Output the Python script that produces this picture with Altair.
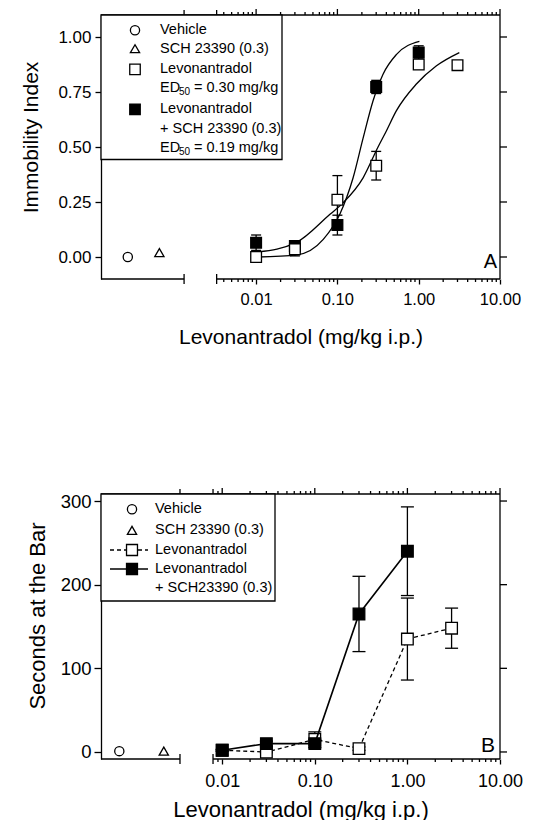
import altair as alt
import pandas as pd

FONT = "Liberation Sans"

# ---------------- Panel A : Immobility Index ----------------
dose_lev = [0.01, 0.03, 0.1, 0.3, 1.0, 3.0]
dose_combo = [0.01, 0.03, 0.1, 0.3, 1.0]
a_lev_mean = [0.00, 0.035, 0.26, 0.415, 0.875, 0.872]
a_lev_sem = [0.00, 0.03, 0.11, 0.065, 0.02, 0.02]
a_combo_mean = [0.065, 0.05, 0.145, 0.773, 0.93]
a_combo_sem = [0.035, 0.015, 0.045, 0.03, 0.03]
a_ctrl_mean = [0.00, 0.02]          # Vehicle, SCH 23390 (0.3)
a_fit_lev_x = [0.0105, 0.031, 0.081, 0.118, 0.207, 0.316, 0.40, 0.53, 0.93, 1.64, 3.16]
a_fit_lev_y = [0.023, 0.065, 0.194, 0.247, 0.36, 0.50, 0.573, 0.664, 0.785, 0.868, 0.929]
a_fit_combo_x = [0.0105, 0.032, 0.067, 0.107, 0.156, 0.207, 0.274, 0.363, 0.53, 1.02]
a_fit_combo_y = [0.0, 0.01, 0.08, 0.194, 0.36, 0.54, 0.709, 0.83, 0.92, 0.98]
a_yticks = [0.0, 0.25, 0.5, 0.75, 1.0]
a_legend = ["Vehicle", "SCH 23390 (0.3)", "Levonantradol", "= 0.30 mg/kg",
            "Levonantradol", "+ SCH 23390 (0.3)", "= 0.19 mg/kg"]

# ---------------- Panel B : Seconds at the Bar ----------------
b_lev_mean = [2, 0, 15, 4, 135, 148]
b_lev_sem = [1, 1, 9, 2, 49, 24]
b_combo_mean = [2, 10, 10, 165, 240]
b_combo_sem = [1, 3, 5, 45, 53]
b_ctrl_mean = [1, 1]
b_yticks = [0, 100, 200, 300]
b_legend = ["Vehicle", "SCH 23390 (0.3)", "Levonantradol", "Levonantradol", "+ SCH23390 (0.3)"]

x_major = [0.01, 0.1, 1.0, 10.0]
x_title = "Levonantradol (mg/kg i.p.)"

# ---------------- layout ----------------
W, H_A, H_B = 399, 264, 265


def minor_ticks(start):
    return [m * 10.0 ** e for e in (-3, -2, -1, 0) for m in range(2, 10)
            if m * 10.0 ** e > start * 1.12]


A = dict(xdom=[1.236e-4, 10], ydom=[-0.10, 1.10], H=H_A, brk=(1.30e-3, 3.27e-3),
         slots=[2.64e-4, 6.46e-4], yticks=a_yticks, yfmt=".2f", ytitle="Immobility Index",
         xlab=16.5, ylab=17, title=21, ytx=-70, yty=122, xty=64, xlpad=7, ylpad=4, ytick=6,
         cap=10, sq=115, letter="A", letter_xy=(396, 253), letter_size=20)
B = dict(xdom=[4.91e-4, 10], ydom=[-8.4, 308.4], H=H_B, brk=(3.50e-3, 7.96e-3),
         slots=[7.74e-4, 2.34e-3], yticks=b_yticks, yfmt="d", ytitle="Seconds at the Bar",
         xlab=18, ylab=18.5, title=22, ytx=-64, yty=121.5, xty=57, xlpad=8, ylpad=3, ytick=7,
         cap=13, sq=135, letter="B", letter_xy=(394, 258), letter_size=21)

one = pd.DataFrame({"k": [0]})
RULE = dict(color="black", strokeWidth=1.3)


def txt(s, x, y, size=14.5, align="left", baseline="middle", dy=0):
    return alt.Chart(one).mark_text(text=s, font=FONT, fontSize=size, align=align,
                                    baseline=baseline, dy=dy, color="black").encode(
        x=alt.value(x), y=alt.value(y))


def sym(shape, x, y, filled, size):
    fill = "black" if filled else "white"
    return alt.Chart(one).mark_point(shape=shape, size=size, fill=fill, stroke="black",
                                     strokeWidth=1.3, opacity=1).encode(
        x=alt.value(x), y=alt.value(y))


def panel(p, lev_mean, lev_sem, combo_mean, combo_sem, ctrl_mean, mode):
    H = p["H"]
    xaxis = alt.Axis(values=x_major, format=".2f", title=x_title, domain=False, tickSize=5,
                     tickWidth=1.3, tickColor="black", labelFontSize=p["xlab"],
                     titleFontSize=p["title"], labelPadding=p["xlpad"], labelFlush=False,
                     labelOverlap=False, titleY=p["xty"], titleBaseline="alphabetic",
                     grid=False, labelFont=FONT, titleFont=FONT)
    yaxis = alt.Axis(values=p["yticks"], format=p["yfmt"], title=p["ytitle"], domain=True,
                     domainColor="black", domainWidth=1.3, tickSize=p["ytick"], tickWidth=1.3,
                     tickColor="black", labelFontSize=p["ylab"], titleFontSize=p["title"],
                     labelPadding=p["ylpad"], titleX=p["ytx"], titleY=p["yty"], titleAngle=270,
                     titleBaseline="middle", titleAlign="center", grid=False, labelFlush=False,
                     labelFont=FONT, titleFont=FONT)

    # every layer carries the identical axis definition so that they merge cleanly
    def X(f):
        return alt.X(f"{f}:Q", scale=alt.Scale(type="log", domain=p["xdom"], nice=False), axis=xaxis)

    def Y(f):
        return alt.Y(f"{f}:Q", scale=alt.Scale(domain=p["ydom"], nice=False, zero=False), axis=yaxis)

    L = []
    L.append(alt.Chart(pd.DataFrame({"x": [x_major[0]], "y": [p["yticks"][0]]}))
             .mark_point(opacity=0).encode(x=X("x"), y=Y("y")))

    # right frame + ticks
    L.append(alt.Chart(one).mark_rule(**RULE).encode(x=alt.value(W), y=alt.value(0), y2=alt.value(H)))
    L.append(alt.Chart(pd.DataFrame({"v": p["yticks"]})).mark_rule(**RULE).encode(
        y=Y("v"), x=alt.value(W), x2=alt.value(W + 7)))
    # top frame + ticks
    L.append(alt.Chart(one).mark_rule(**RULE).encode(x=alt.value(0), x2=alt.value(W), y=alt.value(0)))
    minors = minor_ticks(p["brk"][1])
    L.append(alt.Chart(pd.DataFrame({"v": x_major})).mark_rule(**RULE).encode(
        x=X("v"), y=alt.value(0), y2=alt.value(-6)))
    L.append(alt.Chart(pd.DataFrame({"v": minors})).mark_rule(**RULE).encode(
        x=X("v"), y=alt.value(0), y2=alt.value(-3)))
    L.append(alt.Chart(pd.DataFrame({"v": list(p["brk"])})).mark_rule(**RULE).encode(
        x=X("v"), y=alt.value(2), y2=alt.value(-5)))
    # bottom broken axis
    seg = pd.DataFrame({"a": [p["xdom"][0], p["brk"][1]], "b": [p["brk"][0], p["xdom"][1]]})
    L.append(alt.Chart(seg).mark_rule(**RULE).encode(x=X("a"), x2="b:Q", y=alt.value(H)))
    L.append(alt.Chart(pd.DataFrame({"v": minors})).mark_rule(**RULE).encode(
        x=X("v"), y=alt.value(H), y2=alt.value(H + 3)))
    L.append(alt.Chart(pd.DataFrame({"v": list(p["brk"])})).mark_rule(**RULE).encode(
        x=X("v"), y=alt.value(H - 5), y2=alt.value(H + 5)))

    lev = pd.DataFrame({"x": dose_lev, "m": lev_mean,
                        "lo": [m - s for m, s in zip(lev_mean, lev_sem)],
                        "hi": [m + s for m, s in zip(lev_mean, lev_sem)]})
    combo = pd.DataFrame({"x": dose_combo, "m": combo_mean,
                          "lo": [m - s for m, s in zip(combo_mean, combo_sem)],
                          "hi": [m + s for m, s in zip(combo_mean, combo_sem)]})

    def errbars(df):
        out = [alt.Chart(df).mark_rule(**RULE).encode(x=X("x"), y=Y("lo"), y2="hi:Q")]
        for f in ("lo", "hi"):
            out.append(alt.Chart(df).mark_tick(orient="horizontal", size=p["cap"], thickness=1.3,
                                               color="black", opacity=1).encode(x=X("x"), y=Y(f)))
        return out

    def squares(df, filled):
        return alt.Chart(df).mark_point(shape="square", size=p["sq"],
                                        fill="black" if filled else "white", stroke="black",
                                        strokeWidth=1.3, opacity=1).encode(x=X("x"), y=Y("m"))

    if mode == "fit":
        fl = pd.DataFrame({"x": a_fit_lev_x, "y": a_fit_lev_y})
        fc = pd.DataFrame({"x": a_fit_combo_x, "y": a_fit_combo_y})
        L.append(alt.Chart(fl).mark_line(color="black", strokeWidth=1.3, interpolate="monotone")
                 .encode(x=X("x"), y=Y("y")))
        L.append(alt.Chart(fc).mark_line(color="black", strokeWidth=1.3, interpolate="monotone")
                 .encode(x=X("x"), y=Y("y")))
        L += errbars(combo)
        L.append(squares(combo, True))
        L += errbars(lev)
        L.append(squares(lev, False))
    else:
        L.append(alt.Chart(lev).mark_line(color="black", strokeWidth=1.3, strokeDash=[4, 3])
                 .encode(x=X("x"), y=Y("m")))
        L += errbars(lev)
        L.append(squares(lev, False))
        L.append(alt.Chart(combo).mark_line(color="black", strokeWidth=1.6)
                 .encode(x=X("x"), y=Y("m")))
        L += errbars(combo)
        L.append(squares(combo, True))

    # control groups on the left part of the broken axis
    ctrl = pd.DataFrame({"x": p["slots"], "m": ctrl_mean})
    L.append(alt.Chart(ctrl.iloc[[0]]).mark_point(shape="circle", size=85, fill="white",
                                                  stroke="black", strokeWidth=1.3, opacity=1)
             .encode(x=X("x"), y=Y("m")))
    L.append(alt.Chart(ctrl.iloc[[1]]).mark_point(shape="triangle-up", size=85, fill="white",
                                                  stroke="black", strokeWidth=1.3, opacity=1)
             .encode(x=X("x"), y=Y("m")))

    # panel letter
    lx, ly = p["letter_xy"]
    L.append(txt(p["letter"], lx, ly, size=p["letter_size"], align="right", baseline="alphabetic"))
    return L


# ---------- panel A ----------
LA = panel(A, a_lev_mean, a_lev_sem, a_combo_mean, a_combo_sem, a_ctrl_mean, "fit")
rows = [15.3, 33.7, 54.3, 73.3, 94.3, 113.7, 132.7]
sx, tx = 34, 59
LA.append(alt.Chart(one).mark_rect(fill="white", stroke="black", strokeWidth=1.3).encode(
    x=alt.value(0), x2=alt.value(181), y=alt.value(0), y2=alt.value(144.5)))
LA.append(sym("circle", sx, rows[0], False, 85))
LA.append(sym("triangle-up", sx, rows[1], False, 85))
LA.append(sym("square", sx, rows[2], False, 110))
LA.append(sym("square", sx, rows[4], True, 110))
for i in (0, 1, 2, 4, 5):
    LA.append(txt(a_legend[i], tx, rows[i]))
for i in (3, 6):
    LA.append(txt("ED", tx, rows[i]))
    LA.append(txt("50", tx + 19, rows[i], size=10, dy=4))
    LA.append(txt(a_legend[i], tx + 34, rows[i]))
chartA = alt.layer(*LA).properties(width=W, height=H_A)

# ---------- panel B ----------
LB = panel(B, b_lev_mean, b_lev_sem, b_combo_mean, b_combo_sem, b_ctrl_mean, "line")
rowsB = [15.3, 36.4, 56.0, 75.0, 93.6]
sxb, txb = 31, 54
LB.append(alt.Chart(one).mark_rect(fill="white", stroke="black", strokeWidth=1.3).encode(
    x=alt.value(0), x2=alt.value(174), y=alt.value(0), y2=alt.value(107)))
LB.append(alt.Chart(one).mark_rule(color="black", strokeWidth=1.3, strokeDash=[4, 3]).encode(
    x=alt.value(9), x2=alt.value(47), y=alt.value(rowsB[2])))
LB.append(alt.Chart(one).mark_rule(color="black", strokeWidth=1.6).encode(
    x=alt.value(9), x2=alt.value(47), y=alt.value(rowsB[3])))
LB.append(sym("circle", sxb, rowsB[0], False, 85))
LB.append(sym("triangle-up", sxb, rowsB[1], False, 85))
LB.append(sym("square", sxb, rowsB[2], False, 120))
LB.append(sym("square", sxb, rowsB[3], True, 120))
for i, s in enumerate(b_legend):
    LB.append(txt(s, txb, rowsB[i]))
chartB = alt.layer(*LB).properties(width=W, height=H_B)

chart = alt.vconcat(chartA, chartB, spacing=215, bounds="flush").properties(
    padding={"left": 12, "top": 0, "right": 0, "bottom": 0}
).configure_view(stroke=None).configure_axis(
    labelColor="black", titleColor="black", titleFontWeight="normal", grid=False
)

chart.save("out.html", embed_options={"renderer": "svg", "actions": False})
